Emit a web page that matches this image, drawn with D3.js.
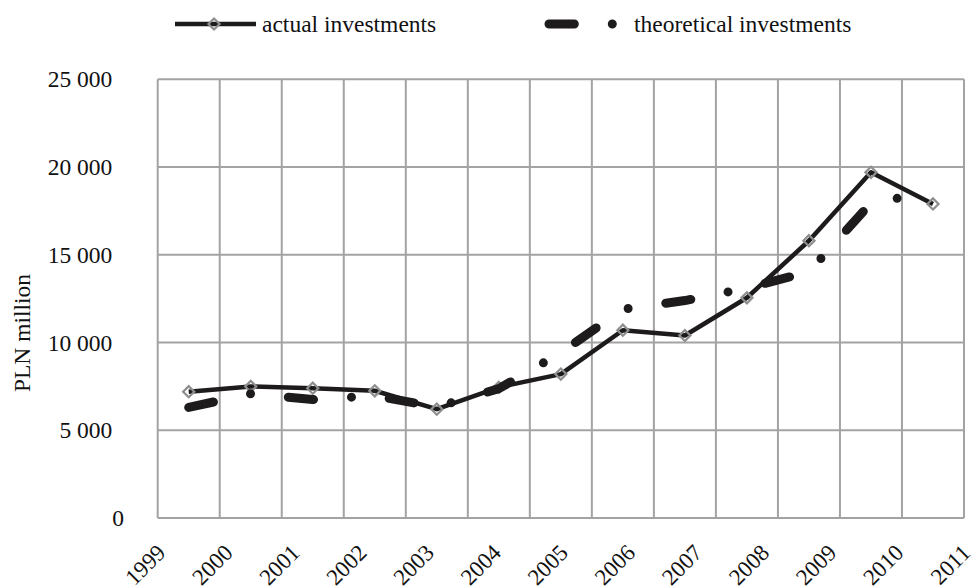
<!DOCTYPE html>
<html>
<head>
<meta charset="utf-8">
<script src="https://cdn.jsdelivr.net/npm/d3@7"></script>
<style>
  body { margin: 0; background: #fff; }
  text { font-family: "Liberation Serif", "Times New Roman", serif; fill: #111; }
</style>
</head>
<body>
<div id="chart"></div>
<script>
// values
var years = ["1999", "2000", "2001", "2002", "2003", "2004", "2005", "2006", "2007", "2008", "2009", "2010", "2011"];
var actual = [7200, 7500, 7400, 7250, 6200, 7450, 8200, 10700, 10400, 12550, 15800, 19700, 17900];
var theoretical = [6300, 7080, 6750, 6970, 6320, 7370, 9420, 11900, 12390, 13100, 14030, 17950, 18580];
var yTicks = [0, 5000, 10000, 15000, 20000, 25000];
var seriesNames = ["actual investments", "theoretical investments"];

var width = 974, height = 586;
var plotL = 157.7, plotR = 964, plotT = 79.3, plotB = 518;
var grid = "#a3a3a3", ink = "#1e1b1c";
var dashes = "25.3 38 0 38";

var svg = d3.select("#chart").append("svg")
    .attr("width", width)
    .attr("height", height);

var x = d3.scaleBand().domain(years).range([plotL, plotR]);
var y = d3.scaleLinear().domain([0, 25000]).range([plotB, plotT]);
// the year labels sit on their own, slightly wider spacing
var xl = d3.scalePoint().domain(years).range([167, 972]);

function cx(d, i) { return x(years[i]) + x.bandwidth() / 2; }

// horizontal grid
svg.append("g").selectAll("line")
    .data(yTicks)
    .enter().append("line")
    .attr("x1", plotL).attr("x2", plotR)
    .attr("y1", function(d) { return y(d); })
    .attr("y2", function(d) { return y(d); })
    .style("stroke", grid).style("stroke-width", 2);

// vertical grid on the category boundaries
var edges = years.map(function(d) { return x(d); }).concat([x.range()[1]]);
svg.append("g").selectAll("line")
    .data(edges)
    .enter().append("line")
    .attr("x1", function(d) { return d; })
    .attr("x2", function(d) { return d; })
    .attr("y1", plotT).attr("y2", plotB)
    .style("stroke", grid).style("stroke-width", 2);

// y axis labels
var fmt = d3.format(",");
var yAxis = d3.axisLeft(y)
    .tickValues(yTicks)
    .tickSize(0)
    .tickPadding(0)
    .tickFormat(function(d) { return d === 0 ? "0" : fmt(d).replace(/,/g, " ") + "\u2002"; });
var ya = svg.append("g")
    .attr("transform", "translate(124,0)")
    .call(yAxis);
ya.select(".domain").remove();
ya.selectAll("text")
    .style("font-family", "Liberation Serif, serif")
    .style("font-size", "23.5px")
    .style("fill", "#111");

svg.append("text")
    .attr("transform", "translate(30,333) rotate(-90)")
    .attr("text-anchor", "middle")
    .style("font-size", "23.5px")
    .text("PLN million");

// x labels, rotated
svg.append("g").selectAll("text")
    .data(years)
    .enter().append("text")
    .attr("transform", function(d) { return "translate(" + xl(d) + ",554) rotate(-45)"; })
    .attr("text-anchor", "end")
    .style("font-size", "23px")
    .text(function(d) { return d; });

var line = d3.line()
    .x(cx)
    .y(function(d) { return y(d); });

// actual
svg.append("path")
    .datum(actual)
    .attr("d", line)
    .style("fill", "none")
    .style("stroke", ink)
    .style("stroke-width", 4.5)
    .style("stroke-linejoin", "round");

var diamond = d3.symbol().type(d3.symbolSquare).size(62);
svg.append("g").selectAll("path")
    .data(actual)
    .enter().append("path")
    .attr("d", diamond)
    .attr("transform", function(d, i) { return "translate(" + cx(d, i) + "," + y(d) + ") rotate(45)"; })
    .style("fill", "none")
    .style("stroke", "#8e8e8e")
    .style("stroke-width", 2.2);

// theoretical
svg.append("path")
    .datum(theoretical)
    .attr("d", line)
    .style("fill", "none")
    .style("stroke", ink)
    .style("stroke-width", 9)
    .style("stroke-linecap", "round")
    .style("stroke-linejoin", "round")
    .style("stroke-dasharray", dashes);

// legend
var lg = svg.append("g");
lg.append("line")
    .attr("x1", 175).attr("x2", 256).attr("y1", 24).attr("y2", 24)
    .style("stroke", ink).style("stroke-width", 4.5);
lg.append("path")
    .attr("d", diamond)
    .attr("transform", "translate(214,24) rotate(45)")
    .style("fill", "none").style("stroke", "#8e8e8e").style("stroke-width", 2.2);
lg.append("text")
    .attr("x", 262).attr("y", 24).attr("dy", "0.33em")
    .style("font-size", "23.5px")
    .text(seriesNames[0]);

lg.append("line")
    .attr("x1", 549).attr("x2", 625).attr("y1", 24).attr("y2", 24)
    .style("stroke", ink).style("stroke-width", 9)
    .style("stroke-linecap", "round")
    .style("stroke-dasharray", dashes);
lg.append("text")
    .attr("x", 634).attr("y", 24).attr("dy", "0.33em")
    .style("font-size", "23.5px")
    .text(seriesNames[1]);
</script>
</body>
</html>
